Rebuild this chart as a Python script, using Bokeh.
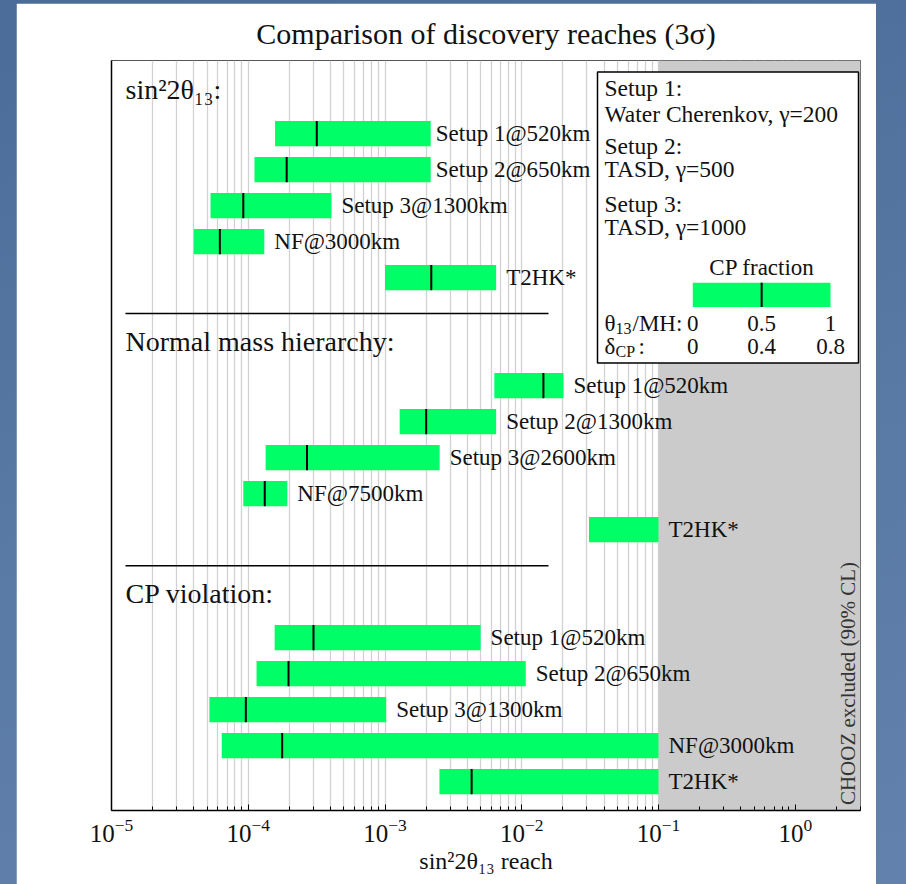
import math

from bokeh.core.properties import value
from bokeh.embed import file_html
from bokeh.layouts import column
from bokeh.models import FixedTicker, LinearScale, Range1d
from bokeh.plotting import figure
from bokeh.resources import INLINE

# ---------------------------------------------------------------------------
# Discovery reaches in sin^2(2 theta_13); each bar runs from the reach at
# CP fraction 0 (low) to CP fraction 1 (high); the tick marks the median.
# ---------------------------------------------------------------------------
group_titles = ["sin²2θ₁₃:", "Normal mass hierarchy:", "CP violation:"]

theta_labels = ["Setup 1@520km", "Setup 2@650km", "Setup 3@1300km", "NF@3000km", "T2HK*"]
theta_low = [1.57e-4, 1.11e-4, 5.3e-5, 4.0e-5, 1.0e-3]
theta_high = [2.16e-3, 2.16e-3, 4.06e-4, 1.31e-4, 6.5e-3]
theta_mid = [3.17e-4, 1.91e-4, 9.2e-5, 6.2e-5, 2.18e-3]

mh_labels = ["Setup 1@520km", "Setup 2@1300km", "Setup 3@2600km", "NF@7500km", "T2HK*"]
mh_low = [6.3e-3, 1.28e-3, 1.34e-4, 9.2e-5, 3.1e-2]
mh_high = [2.02e-2, 6.5e-3, 2.51e-3, 1.93e-4, 0.1]
mh_mid = [1.44e-2, 2.0e-3, 2.69e-4, 1.32e-4, float("nan")]

cp_labels = ["Setup 1@520km", "Setup 2@650km", "Setup 3@1300km", "NF@3000km", "T2HK*"]
cp_low = [1.56e-4, 1.15e-4, 5.2e-5, 6.4e-5, 2.5e-3]
cp_high = [5.0e-3, 1.07e-2, 1.02e-3, 0.1, 0.1]
cp_mid = [3.0e-4, 1.97e-4, 9.6e-5, 1.77e-4, 4.3e-3]

chooz_limit = 0.1
chooz_text = "CHOOZ excluded (90% CL)"

legend_lines = ["Setup 1:", "Water Cherenkov, γ=200", "Setup 2:", "TASD, γ=500",
                "Setup 3:", "TASD, γ=1000"]
legend_fraction_ticks = [0.0, 0.5, 1.0]
legend_theta_ticks = ["0", "0.5", "1"]
legend_delta_ticks = ["0", "0.4", "0.8"]
legend_median = 0.5

tick_exponents = [-5, -4, -3, -2, -1, 0]

groups = [
    (theta_labels, theta_low, theta_high, theta_mid),
    (mh_labels, mh_low, mh_high, mh_mid),
    (cp_labels, cp_low, cp_high, cp_mid),
]

# ---------------------------------------------------------------------------
SERIF = value("Liberation Serif")
GREEN = "#00ff66"
INK = "#111111"

X_MIN, X_MAX = 1e-5, 3.0
FRAME_W, FRAME_H = 749, 750
ROW_TOP, ROW_BOTTOM = -0.03, 20.80
ROWS_PER_GROUP = 7
BAR_H = 0.70

p = figure(
    frame_width=FRAME_W, frame_height=FRAME_H,
    x_axis_type="log", x_range=Range1d(X_MIN, X_MAX),
    y_range=Range1d(ROW_BOTTOM, ROW_TOP),
    output_backend="svg", toolbar_location=None,
    min_border_left=95, min_border_right=16, min_border_top=57, min_border_bottom=74,
    background_fill_color="white", border_fill_color="white",
)
# pixel-like helper coordinates for the inset key and free-standing texts
p.extra_x_ranges = {"px": Range1d(0, FRAME_W)}
p.extra_x_scales = {"px": LinearScale()}
p.extra_y_ranges = {"px": Range1d(FRAME_H, 0)}
p.extra_y_scales = {"px": LinearScale()}

p.title.text = "Comparison of discovery reaches (3σ)"
p.title.align = "center"
p.title.text_font = "Liberation Serif"
p.title.text_font_style = "normal"
p.title.text_font_size = "30px"
p.title.text_color = INK
p.title.standoff = 21

# axes, ticks and grid
decades = [10.0 ** e for e in tick_exponents]
minors = [m * 10.0 ** e for e in tick_exponents for m in range(2, 10) if m * 10.0 ** e <= X_MAX]
p.xaxis.ticker = FixedTicker(ticks=decades, minor_ticks=minors)
p.xaxis.axis_label = "sin²2θ₁₃ reach"
p.xaxis.axis_label_text_font = "Liberation Serif"
p.xaxis.axis_label_text_font_style = "normal"
p.xaxis.axis_label_text_font_size = "24px"
p.xaxis.axis_label_text_color = INK
p.xaxis.axis_label_standoff = 3
p.xaxis.major_label_text_font = "Liberation Serif"
p.xaxis.major_label_text_font_size = "25px"
p.xaxis.major_label_text_color = INK
p.xaxis.major_label_standoff = 8
p.xaxis.axis_line_color = "black"
p.xaxis.axis_line_width = 1.5
p.xaxis.major_tick_in = 6
p.xaxis.major_tick_out = 0
p.xaxis.minor_tick_in = 4
p.xaxis.minor_tick_out = 0
p.xaxis.major_tick_line_color = "black"
p.xaxis.minor_tick_line_color = "black"

p.yaxis.ticker = FixedTicker(ticks=[])
p.yaxis.major_label_text_font_size = "0px"
p.yaxis.axis_line_color = "black"
p.yaxis.axis_line_width = 1.5
p.yaxis.major_tick_line_color = None
p.yaxis.minor_tick_line_color = None

p.xgrid.ticker = FixedTicker(ticks=decades, minor_ticks=minors)
p.xgrid.grid_line_color = "#d2d2d2"
p.xgrid.grid_line_width = 1.3
p.xgrid.minor_grid_line_color = "#d2d2d2"
p.xgrid.minor_grid_line_width = 1.3
p.ygrid.grid_line_color = None
p.outline_line_color = "#555555"
p.outline_line_width = 1

# region excluded by CHOOZ
p.quad(left=[chooz_limit], right=[X_MAX], bottom=[ROW_BOTTOM], top=[ROW_TOP],
       fill_color="#cbcbcb", line_color=None)

# bars, median ticks and setup labels
for g, (labels, low, high, mid) in enumerate(groups):
    base = g * ROWS_PER_GROUP
    rows = [base + 2 + i for i in range(len(labels))]
    p.hbar(y=rows, left=low, right=high, height=BAR_H, fill_color=GREEN, line_color=None)
    mk_rows = [r for r, m in zip(rows, mid) if not math.isnan(m)]
    mk_x = [m for m in mid if not math.isnan(m)]
    p.segment(x0=mk_x, x1=mk_x, y0=[r - BAR_H / 2 for r in mk_rows],
              y1=[r + BAR_H / 2 for r in mk_rows], line_color="black", line_width=2)
    # the two top labels sit a little closer to their bars to clear the key
    pads = [5, 5, 10, 10, 10] if g == 0 else [10] * len(labels)
    p.text(x=high, y=rows, text=labels, x_offset=pads, text_baseline="middle",
           text_align="left", text_font=SERIF, text_font_size="23px", text_color=INK)
    p.text(x=[14], y=[base + 0.78], text=[group_titles[g]], x_range_name="px",
           text_baseline="middle", text_align="left", text_font=SERIF,
           text_font_size="28px", text_color=INK)
    if g < len(groups) - 1:
        p.segment(x0=[14], x1=[437], y0=[base + ROWS_PER_GROUP], y1=[base + ROWS_PER_GROUP],
                  x_range_name="px", line_color="black", line_width=1.5)

# vertical note inside the excluded region
p.text(x=[736], y=[623], text=[chooz_text], angle=math.pi / 2,
       x_range_name="px", y_range_name="px", text_align="center",
       text_baseline="middle", text_font=SERIF, text_font_size="21px", text_color="#333333")

# inset key
p.quad(left=[486], right=[747], top=[11.5], bottom=[302.5], x_range_name="px",
       y_range_name="px", fill_color="white", line_color="black", line_width=1.5)
p.text(x=[493] * len(legend_lines), y=[27.5, 53.5, 85.5, 108.5, 143.5, 166.5],
       text=legend_lines, x_range_name="px", y_range_name="px", text_baseline="middle",
       text_font=SERIF, text_font_size="23.5px", text_color=INK)
p.text(x=[650.5], y=[206.5], text=["CP fraction"], x_range_name="px", y_range_name="px",
       text_align="center", text_baseline="middle", text_font=SERIF,
       text_font_size="23px", text_color=INK)
KEY_L, KEY_R = 581.3, 719.0
p.quad(left=[KEY_L], right=[KEY_R], top=[222.2], bottom=[246.5], x_range_name="px",
       y_range_name="px", fill_color=GREEN, line_color=None)
key_mid = KEY_L + legend_median * (KEY_R - KEY_L)
p.segment(x0=[key_mid], x1=[key_mid], y0=[222.2], y1=[246.5], x_range_name="px",
          y_range_name="px", line_color="black", line_width=2)
key_x = [KEY_L + f * (KEY_R - KEY_L) for f in legend_fraction_ticks]
for yy, ticks in ((262.5, legend_theta_ticks), (285.5, legend_delta_ticks)):
    p.text(x=key_x, y=[yy] * len(ticks), text=ticks, x_range_name="px", y_range_name="px",
           text_align="center", text_baseline="middle", text_font=SERIF,
           text_font_size="23px", text_color=INK)
# row captions with subscripts
p.text(x=[493, 521], y=[262.5, 262.5], text=["θ", "/MH:"], x_range_name="px",
       y_range_name="px", text_baseline="middle", text_font=SERIF, text_font_size="23px",
       text_color=INK)
p.text(x=[504, 504], y=[268, 291], text=["13", "CP"], x_range_name="px", y_range_name="px",
       text_baseline="middle", text_font=SERIF, text_font_size="16px", text_color=INK)
p.text(x=[493, 527], y=[285.5, 285.5], text=["δ", ":"], x_range_name="px",
       y_range_name="px", text_baseline="middle", text_font=SERIF, text_font_size="23px",
       text_color=INK)

p.margin = (3, 30, 0, 16)
page = column(p, width=906, height=884,
              styles={"background": "linear-gradient(170deg, #4b6b98 0%, #5a7aa6 55%, #6282ad 100%)"})

with open("out.html", "w") as f:
    f.write(file_html(page, INLINE))
